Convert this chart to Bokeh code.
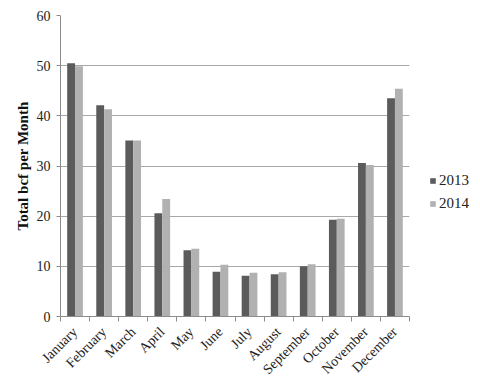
import numpy as np
from bokeh.plotting import figure
from bokeh.models import ColumnDataSource, FixedTicker, Legend, LegendItem, Range1d
from bokeh.transform import dodge
from bokeh.embed import file_html
from bokeh.resources import INLINE

months = ["January", "February", "March", "April", "May", "June", "July",
          "August", "September", "October", "November", "December"]
series_names = ["2013", "2014"]
values_2013 = [50.5, 42.1, 35.1, 20.6, 13.2, 8.9, 8.1, 8.4, 10.0, 19.3, 30.6, 43.5]
values_2014 = [49.9, 41.3, 35.1, 23.4, 13.5, 10.3, 8.7, 8.8, 10.4, 19.5, 30.2, 45.4]
y_ticks = [0, 10, 20, 30, 40, 50, 60]

FONT = "Liberation Serif"
DARK = "#5b5b5b"
LIGHT = "#b1b1b1"

centers = [i + 0.5 for i in range(len(months))]
bounds = [float(i) for i in range(len(months) + 1)]
src = ColumnDataSource(dict(x=centers, v2013=values_2013, v2014=values_2014))

p = figure(frame_width=349, frame_height=301, output_backend="svg",
           toolbar_location=None,
           x_range=Range1d(0, len(months)), y_range=Range1d(0, 60),
           min_border_left=60, min_border_right=0, min_border_top=15,
           min_border_bottom=68)
p.outline_line_color = None
p.background_fill_color = "white"
p.border_fill_color = "white"

bw = 0.27
r1 = p.vbar(x=dodge("x", -bw / 2), top="v2013", width=bw, source=src,
            fill_color=DARK, line_color=None)
r2 = p.vbar(x=dodge("x", bw / 2), top="v2014", width=bw, source=src,
            fill_color=LIGHT, line_color=None)

# x axis
p.xaxis.ticker = FixedTicker(ticks=centers, minor_ticks=bounds)
p.xaxis.major_label_overrides = {c: m for c, m in zip(centers, months)}
p.xaxis.major_label_orientation = np.pi / 4
p.xaxis.major_tick_out = 0
p.xaxis.major_tick_in = 0
p.xaxis.minor_tick_out = 5
p.xaxis.minor_tick_in = 0
p.xaxis.minor_tick_line_color = "#8c8c8c"
p.xaxis.axis_line_color = "#8c8c8c"
p.xaxis.major_label_text_font = FONT
p.xaxis.major_label_text_font_size = "14px"
p.xaxis.major_label_text_color = "#222222"
p.xaxis.major_label_standoff = 8
p.xgrid.grid_line_color = None

# y axis
p.yaxis.ticker = FixedTicker(ticks=y_ticks)
p.yaxis.minor_tick_line_color = None
p.yaxis.major_tick_out = 4
p.yaxis.major_tick_in = 0
p.yaxis.major_tick_line_color = "#8c8c8c"
p.yaxis.axis_line_color = "#8c8c8c"
p.yaxis.major_label_text_font = FONT
p.yaxis.major_label_text_font_size = "14px"
p.yaxis.major_label_text_color = "#222222"
p.yaxis.major_label_standoff = 6
p.yaxis.axis_label = "Total bcf per Month"
p.yaxis.axis_label_text_font = FONT
p.yaxis.axis_label_text_font_style = "bold"
p.yaxis.axis_label_text_font_size = "15px"
p.yaxis.axis_label_text_color = "#111111"
p.yaxis.axis_label_standoff = 3
p.ygrid.grid_line_color = "#a8a8a8"
p.ygrid.grid_line_width = 1

legend = Legend(items=[LegendItem(label=series_names[0], renderers=[r1]),
                       LegendItem(label=series_names[1], renderers=[r2])],
                location=(20, 104), border_line_color=None,
                background_fill_alpha=0, label_text_font=FONT,
                label_text_font_size="15px", label_text_color="#222222",
                glyph_width=7, glyph_height=7, spacing=6, padding=0,
                margin=0, label_standoff=3)
p.add_layout(legend, "right")

open("out.html", "w").write(file_html(p, INLINE))
